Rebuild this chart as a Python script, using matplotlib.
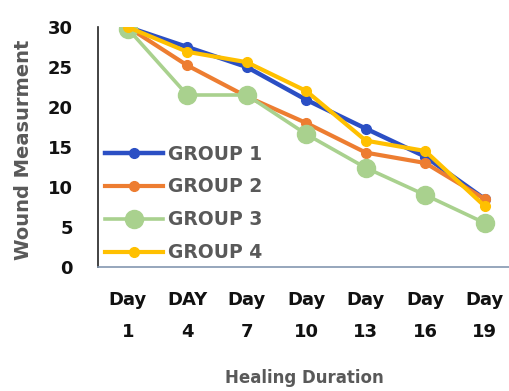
import matplotlib
matplotlib.use("Agg")
import matplotlib.pyplot as plt

days = ["Day\n1", "DAY\n4", "Day\n7", "Day\n10", "Day\n13", "Day\n16", "Day\n19"]
group1 = [30.0, 27.5, 25.0, 20.9, 17.3, 13.8, 8.5]
group2 = [30.0, 25.2, 21.3, 18.0, 14.3, 13.0, 8.5]
group3 = [29.8, 21.5, 21.5, 16.6, 12.4, 9.0, 5.5]
group4 = [30.0, 26.9, 25.6, 22.0, 15.8, 14.5, 7.6]
names = ["GROUP 1", "GROUP 2", "GROUP 3", "GROUP 4"]
yticks = [0, 5, 10, 15, 20, 25, 30]

colors = ["#2b4fc4", "#ed7d31", "#a9d18e", "#ffc000"]
msizes = [7, 7, 13, 7]
lws = [3.2, 3.0, 2.6, 3.0]

W, H = 510, 391
fig = plt.figure(figsize=(W / 100, H / 100), dpi=100)
ax_left, ax_bottom, ax_top = 98, 267, 27
ax_w = 7 * 59.5
ax = fig.add_axes([ax_left / W, 1 - ax_bottom / H, ax_w / W, (ax_bottom - ax_top) / H])

x = list(range(len(days)))
for vals, name, c, ms, lw in zip([group1, group2, group3, group4], names, colors, msizes, lws):
    ax.plot(x, vals, color=c, lw=lw, marker="o", ms=ms, label=name,
            markeredgecolor=c, markerfacecolor=c)

ax.set_xlim(-0.5, len(days) - 0.5)
ax.set_ylim(0, 30)
ax.set_yticks(yticks)
ax.set_xticks(x)
ax.set_xticklabels(days, fontsize=13, fontweight="bold", linespacing=1.95)
ax.set_yticklabels([str(v) for v in yticks], fontsize=13, fontweight="bold")
ax.tick_params(axis="both", length=0, colors="#111111")
ax.tick_params(axis="x", pad=17.5)
ax.tick_params(axis="y", pad=18)

for s in ["top", "right"]:
    ax.spines[s].set_visible(False)
ax.spines["left"].set_color("#222222")
ax.spines["left"].set_linewidth(1.2)
ax.spines["bottom"].set_color("#8497b0")
ax.spines["bottom"].set_linewidth(1.2)

fig.text(24 / W, 1 - 150 / H, "Wound Measurment", rotation=90, ha="center", va="center",
         fontsize=14, fontweight="bold", color="#595959")
fig.text(304 / W, 1 - 378 / H, "Healing Duration", ha="center", va="center",
         fontsize=12, fontweight="bold", color="#595959")

leg = ax.legend(loc="lower left", bbox_to_anchor=(7 / ax_w, 0.02), frameon=False,
                fontsize=13.5, handlelength=3.1, handletextpad=0.25,
                labelspacing=0.74, borderaxespad=0, borderpad=0)
for t in leg.get_texts():
    t.set_color("#595959")
    t.set_fontweight("bold")

fig.savefig("out.png", dpi=100)
